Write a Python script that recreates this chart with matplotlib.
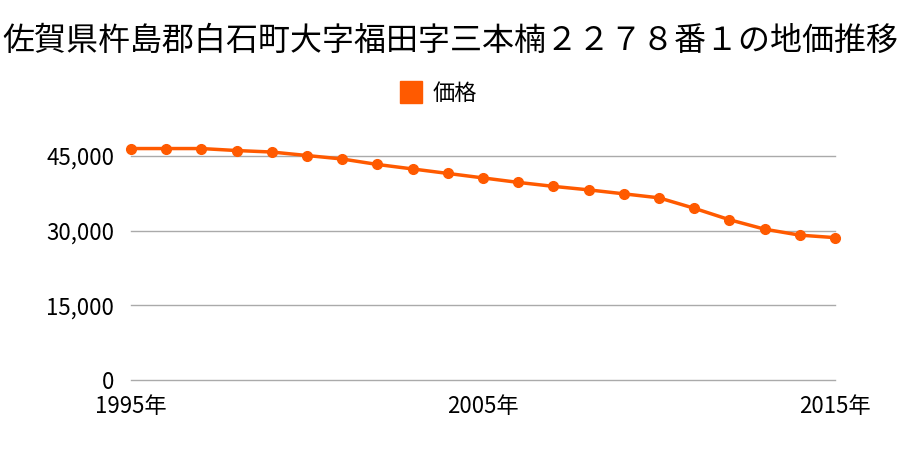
import matplotlib
matplotlib.use("Agg")
import matplotlib.pyplot as plt
from matplotlib.lines import Line2D

plt.rcParams['font.family'] = ['Noto Sans CJK JP', 'DejaVu Sans']

title = "佐賀県杵島郡白石町大字福田字三本楠２２７８番１の地価推移"
years = list(range(1995, 2016))
prices = [46500, 46500, 46500, 46100, 45800, 45100, 44400, 43300, 42400, 41500,
          40600, 39700, 38900, 38200, 37400, 36600, 34500, 32200, 30300, 29100, 28600]
yticks = [0, 15000, 30000, 45000]
xticks = [1995, 2005, 2015]
color = "#ff5a00"

fig = plt.figure(figsize=(9, 4.5), dpi=100)
ax = fig.add_axes([0.1456, 0.1556, 0.7822, 0.553])

ax.plot(years, prices, color=color, lw=2.5, marker="o", ms=7, zorder=3, clip_on=False)

ax.set_xlim(1995, 2015)
ax.set_ylim(0, 50000)
ax.set_yticks(yticks)
ax.set_yticklabels([f"{v:,}" for v in yticks], fontsize=16)
ax.set_xticks(xticks)
ax.set_xticklabels([f"{y}年" for y in xticks], fontsize=16)
ax.tick_params(length=0, pad=12, axis="y")
ax.tick_params(length=0, pad=11, axis="x")
ax.grid(axis="y", color="#aaaaaa", lw=1)
for gl in ax.get_ygridlines():
    gl.set_clip_on(False)
ax.set_axisbelow(True)
for s in ax.spines.values():
    s.set_visible(False)

fig.text(0.5, 0.91, title, ha="center", va="center", fontsize=23)
handle = Line2D([], [], ls="", marker="s", ms=15.5, color=color)
fig.legend([handle], ["価格"], loc="center", bbox_to_anchor=(0.487, 0.793),
           frameon=False, fontsize=16, handlelength=1.0, handletextpad=0.45)

fig.savefig("out.png", dpi=100)
